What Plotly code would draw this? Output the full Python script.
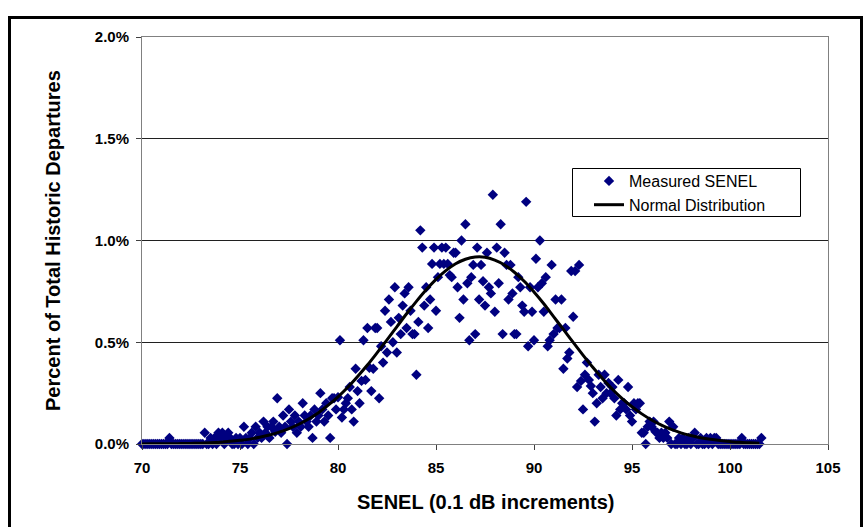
import plotly.graph_objects as go

# SENEL categories: 70.0 .. 101.6 in 0.1 dB steps
senel_db = [round(70 + 0.1 * i, 1) for i in range(317)]

# Measured SENEL, percent of total historic departures, rows per 1 dB
measured_pct = (
    [0, 0, 0, 0, 0, 0, 0, 0, 0, 0] +                                   # 70
    [0, 0, 0, 0, .03, 0, 0, 0, 0, 0] +                                 # 71
    [0, 0, 0, 0, 0, 0, 0, 0, 0, 0] +                                   # 72
    [0, 0, .055, 0, 0, .03, 0, .03, 0, .055] +                         # 73
    [.03, .055, 0, .03, .055, .03, 0, 0, .03, 0] +                     # 74
    [.03, 0, .085, .03, 0, .03, .055, 0, .085, .03] +                  # 75
    [.055, .03, .11, .055, .085, .03, .085, .11, .06, .225] +          # 76
    [.085, .055, .14, .085, 0, .17, .11, .085, .14, .055] +            # 77
    [.11, .085, .20, .14, .11, .085, .14, .03, .17, .11] +             # 78
    [.14, .25, .17, .11, .20, .14, .03, .225, .225, .17] +             # 79
    [.23, .51, .13, .17, .20, .225, .28, .17, .11, .37] +              # 80
    [.26, .20, .31, .51, .315, .57, .375, .26, .37, .57] +             # 81
    [.57, .225, .48, .40, .655, .45, .71, .60, .50, .77] +             # 82
    [.45, .62, .54, .68, .74, .57, .77, .655, .54, .54] +              # 83
    [.34, .60, 1.05, .965, .68, .77, .57, .71, .885, .965] +           # 84
    [.655, .82, .885, .965, .885, .965, .885, .83, .82, .94] +         # 85
    [.94, .77, .62, 1.0, .71, 1.08, .79, .51, .82, .88] +              # 86
    [.54, .965, .71, .88, .80, .68, .94, .77, .74, 1.225] +            # 87
    [.65, .965, .79, 1.08, .54, .94, .88, .71, .88, .74] +             # 88
    [.54, .54, .82, .77, .68, .65, 1.19, .48, .77, .65] +              # 89
    [.51, .91, .77, 1.0, .79, .65, .82, .48, .51, .88] +               # 90
    [.54, .71, .57, .57, .71, .37, .57, .42, .45, .85] +               # 91
    [.625, .85, .28, .88, .31, .17, .34, .40, .315, .285] +            # 92
    [.25, .11, .20, .34, .28, .225, .34, .25, .30, .25] +              # 93
    [.28, .225, .14, .315, .17, .20, .20, .17, .28, .14] +             # 94
    [.11, .20, .17, .20, .20, .055, .055, 0, .085, .11] +              # 95
    [.085, .11, .06, .055, .03, .055, .03, .055, .03, .11] +           # 96
    [0, .085, 0, 0, .03, 0, .03, 0, 0, .03] +                          # 97
    [0, .03, .055, 0, 0, .03, 0, 0, .03, 0] +                          # 98
    [.03, 0, .03, .03, 0, 0, 0, 0, 0, 0] +                             # 99
    [0, 0, 0, 0, 0, 0, .03, 0, 0, 0] +                                 # 100
    [0, 0, 0, 0, 0, 0, .03]                                            # 101
)

# Normal distribution curve, every 0.5 dB
normal_db = [70.0, 70.5, 71.0, 71.5, 72.0, 72.5, 73.0, 73.5, 74.0, 74.5,
             75.0, 75.5, 76.0, 76.5, 77.0, 77.5, 78.0, 78.5, 79.0, 79.5,
             80.0, 80.5, 81.0, 81.5, 82.0, 82.5, 83.0, 83.5, 84.0, 84.5,
             85.0, 85.5, 86.0, 86.5, 87.0, 87.5, 88.0, 88.5, 89.0, 89.5,
             90.0, 90.5, 91.0, 91.5, 92.0, 92.5, 93.0, 93.5, 94.0, 94.5,
             95.0, 95.5, 96.0, 96.5, 97.0, 97.5, 98.0, 98.5, 99.0, 99.5,
             100.0, 100.5, 101.0, 101.5]
normal_pct = [0.000, 0.001, 0.001, 0.001, 0.002, 0.003, 0.004, 0.006, 0.009, 0.013,
              0.018, 0.024, 0.033, 0.044, 0.058, 0.076, 0.097, 0.123, 0.154, 0.191,
              0.232, 0.279, 0.332, 0.388, 0.449, 0.512, 0.576, 0.640, 0.701, 0.758,
              0.809, 0.852, 0.886, 0.908, 0.919, 0.918, 0.904, 0.880, 0.844, 0.800,
              0.747, 0.689, 0.626, 0.563, 0.499, 0.437, 0.377, 0.321, 0.269, 0.223,
              0.183, 0.148, 0.118, 0.093, 0.072, 0.055, 0.042, 0.031, 0.023, 0.017,
              0.012, 0.008, 0.006, 0.004]

x_ticks = [70, 75, 80, 85, 90, 95, 100, 105]
y_ticks = [0.0, 0.5, 1.0, 1.5, 2.0]

FONT = "Liberation Sans, Arial, sans-serif"

# plot-area pixel geometry
L, R, T, B = 142, 39, 37, 83
W, H = 867, 527
PW, PH = W - L - R, H - T - B


def px(xp):
    return (xp - L) / PW


def py(yp):
    return (H - B - yp) / PH


fig = go.Figure()
fig.add_trace(go.Scatter(
    x=senel_db, y=measured_pct, mode="markers", name="Measured SENEL",
    marker=dict(symbol="diamond", size=8, color="#000080",
                line=dict(width=0)),
    cliponaxis=False,
))
fig.add_trace(go.Scatter(
    x=normal_db, y=normal_pct, mode="lines", name="Normal Distribution",
    line=dict(color="black", width=3, shape="spline"),
    cliponaxis=False,
))

fig.update_layout(
    width=W, height=H,
    margin=dict(l=L, r=R, t=T, b=B, pad=0),
    paper_bgcolor="white", plot_bgcolor="white",
    font=dict(family=FONT, color="black"),
    showlegend=True,
    legend=dict(x=px(589), y=py(164), xanchor="left", yanchor="top",
                bgcolor="rgba(0,0,0,0)", borderwidth=0,
                font=dict(family=FONT, size=16, color="black"),
                itemwidth=30, tracegroupgap=0),
    xaxis=dict(range=[70, 105], tickvals=x_ticks, ticktext=[str(v) for v in x_ticks],
               showgrid=False, zeroline=False,
               showline=True, linecolor="#808080", linewidth=1, mirror=True,
               ticks="outside", ticklen=5, tickcolor="#404040",
               ticklabelstandoff=5,
               tickfont=dict(family=FONT, size=15, color="black", weight="bold")),
    yaxis=dict(range=[0, 2], tickvals=y_ticks, ticktext=[f"{v:.1f}%" for v in y_ticks],
               showgrid=True, gridcolor="#202020", gridwidth=1, zeroline=False,
               showline=True, linecolor="#808080", linewidth=1, mirror=True,
               ticks="outside", ticklen=5, tickcolor="#404040",
               ticklabelstandoff=4,
               tickfont=dict(family=FONT, size=15, color="black", weight="bold")),
    annotations=[
        dict(text="SENEL (0.1 dB increments)", x=px(485), y=py(502),
             xref="paper", yref="paper", showarrow=False,
             xanchor="center", yanchor="middle",
             font=dict(family=FONT, size=20, color="black", weight="bold")),
        dict(text="Percent of Total Historic Departures", x=px(53), y=py(241),
             xref="paper", yref="paper", showarrow=False, textangle=-90,
             xanchor="center", yanchor="middle",
             font=dict(family=FONT, size=20, color="black", weight="bold")),
    ],
    shapes=[
        # outer chart frame
        dict(type="rect", xref="paper", yref="paper",
             x0=px(9.5), x1=px(861.5), y0=py(540), y1=py(17.5),
             line=dict(color="black", width=3), fillcolor="rgba(0,0,0,0)", layer="above"),
        # legend box
        dict(type="rect", xref="paper", yref="paper",
             x0=px(572.5), x1=px(800.5), y0=py(216.5), y1=py(168.5),
             line=dict(color="black", width=1), fillcolor="rgba(0,0,0,0)", layer="above"),
    ],
)

fig.write_html("out.html")
